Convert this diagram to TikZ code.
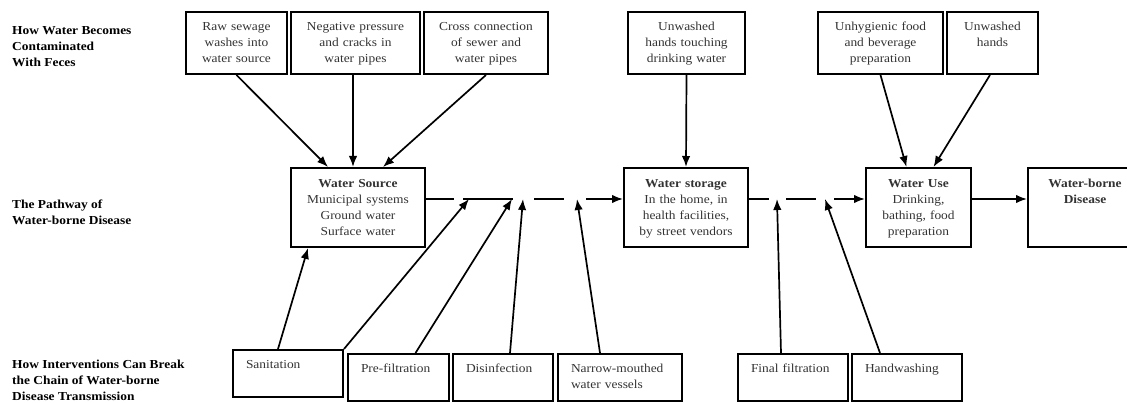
\documentclass[tikz,border=0pt]{standalone}
\usepackage{fontspec}
\setmainfont{Liberation Serif}[FakeStretch=1.1]
\usetikzlibrary{positioning,arrows.meta}
\tikzset{
  box/.style={draw, line width=2pt, rectangle, inner ysep=8pt, font=\fontsize{12.2}{16}\selectfont, text=black!80},
  causebox/.style={box, inner xsep=0pt, text width=#1, align=center, text height=11pt, text depth=35pt},
  pathbox/.style={box, inner xsep=0pt, inner ysep=9pt, text width=#1, align=center, text height=11pt, text depth=50pt},
  fixbox/.style={box, inner xsep=13pt, text width=#1, align=left, text height=10pt, text depth=21pt},
  rowlabel/.style={anchor=north west, inner sep=0pt, align=left, font=\fontsize{12.2}{16}\selectfont\bfseries},
  link/.style={->, line width=1.7pt},
}
\begin{document}
\begin{tikzpicture}[x=1pt,y=-1pt,>={Latex[length=11pt,width=8.5pt]}]
	\useasboundingbox (0,0) rectangle (1127,403);

	% row labels
	\node (lblcause) [rowlabel] at (12,26) {How Water Becomes\\Contaminated\\With Feces};
	\node (lblpath) [rowlabel] at (12,200) {The Pathway of\\Water-borne Disease};
	\node (lblfix) [rowlabel] at (12,360) {How Interventions Can Break\\the Chain of Water-borne\\Disease Transmission};

	% how the water gets dirty
	\node (raw) [causebox=101pt] at (236.5,43) {Raw sewage\\washes into\\water source};
	\node (neg) [causebox=129pt, right of=raw, node distance=119pt] {Negative pressure\\and cracks in\\water pipes};
	\node (cross) [causebox=124pt, right of=neg, node distance=130.5pt] {Cross connection\\of sewer and\\water pipes};
	\node (touch) [causebox=117pt, right of=cross, node distance=200.5pt] {Unwashed\\hands touching\\drinking water};
	\node (prep) [causebox=125pt, right of=touch, node distance=194pt] {Unhygienic food\\and beverage\\preparation};
	\node (hands) [causebox=91pt, right of=prep, node distance=112pt] {Unwashed\\hands};

	% pathway
	\node (source) [pathbox=134pt] at (358,207.5) {\textbf{Water Source}\\Municipal systems\\Ground water\\Surface water};
	\node (storage) [pathbox=124pt, right of=source, node distance=328pt] {\textbf{Water storage}\\In the home, in\\health facilities,\\by street vendors};
	\node (use) [pathbox=105pt, right of=storage, node distance=232.5pt] {\textbf{Water Use}\\Drinking,\\bathing, food\\preparation};
	\node (disease) [pathbox=114pt, right of=use, node distance=166.5pt] {\textbf{Water-borne}\\\textbf{Disease}};

	% interventions
	\node (sanit) [fixbox=84pt] at (288,373.5) {Sanitation};
	\node (prefilt) [fixbox=75pt, right of=sanit, node distance=110.5pt, yshift=-4pt] {\mbox{Pre-filtration}};
	\node (disinf) [fixbox=74pt, right of=prefilt, node distance=104.5pt] {Disinfection};
	\node (vessel) [fixbox=98pt, right of=disinf, node distance=117pt] {\mbox{Narrow-mouthed}\\water vessels};
	\node (final) [fixbox=84pt, right of=vessel, node distance=173pt] {\mbox{Final filtration}};
	\node (wash) [fixbox=84pt, right of=final, node distance=114pt] {Handwashing};

	% where the chain is broken
	\coordinate (gap1) at (469,199);
	\coordinate (gap2) at (512,199);
	\coordinate (gap3) at (523,199);
	\coordinate (gap4) at (577,199);
	\coordinate (gap5) at (777,199);
	\coordinate (gap6) at (825,199);

	\draw[link, dash pattern=on 28pt off 9pt on 50pt off 21pt on 30pt off 22pt on 60pt] ([yshift=8.5pt]source.east) -- ([yshift=8.5pt]storage.west);
	\draw[link, dash pattern=on 20pt off 17pt on 30pt off 18pt on 50pt] ([yshift=8.5pt]storage.east) -- ([yshift=8.5pt]use.west);
	\draw[link] ([yshift=8.5pt]use.east) -- ([yshift=8.5pt]disease.west);

	\draw[link] (raw.south) -- ([xshift=-30pt]source.north);
	\draw[link] ([xshift=-2.5pt]neg.south) -- ([xshift=-5pt]source.north);
	\draw[link] (cross.south) -- ([xshift=25pt]source.north);
	\draw[link] (touch.south) -- (storage.north);
	\draw[link] (prep.south) -- ([xshift=-12pt]use.north);
	\draw[link] ([xshift=-2.5pt]hands.south) -- ([xshift=15pt]use.north);

	\draw[link] ([xshift=-10pt]sanit.north) -- ([xshift=18pt]source.south west);
	\draw[link] (sanit.north east) -- (gap1);
	\draw[link] ([xshift=17pt]prefilt.north) -- (gap2);
	\draw[link] ([xshift=7pt]disinf.north) -- (gap3);
	\draw[link] ([xshift=-20pt]vessel.north) -- (gap4);
	\draw[link] ([xshift=-12pt]final.north) -- (gap5);
	\draw[link] ([xshift=-27pt]wash.north) -- (gap6);
\end{tikzpicture}
\end{document}
